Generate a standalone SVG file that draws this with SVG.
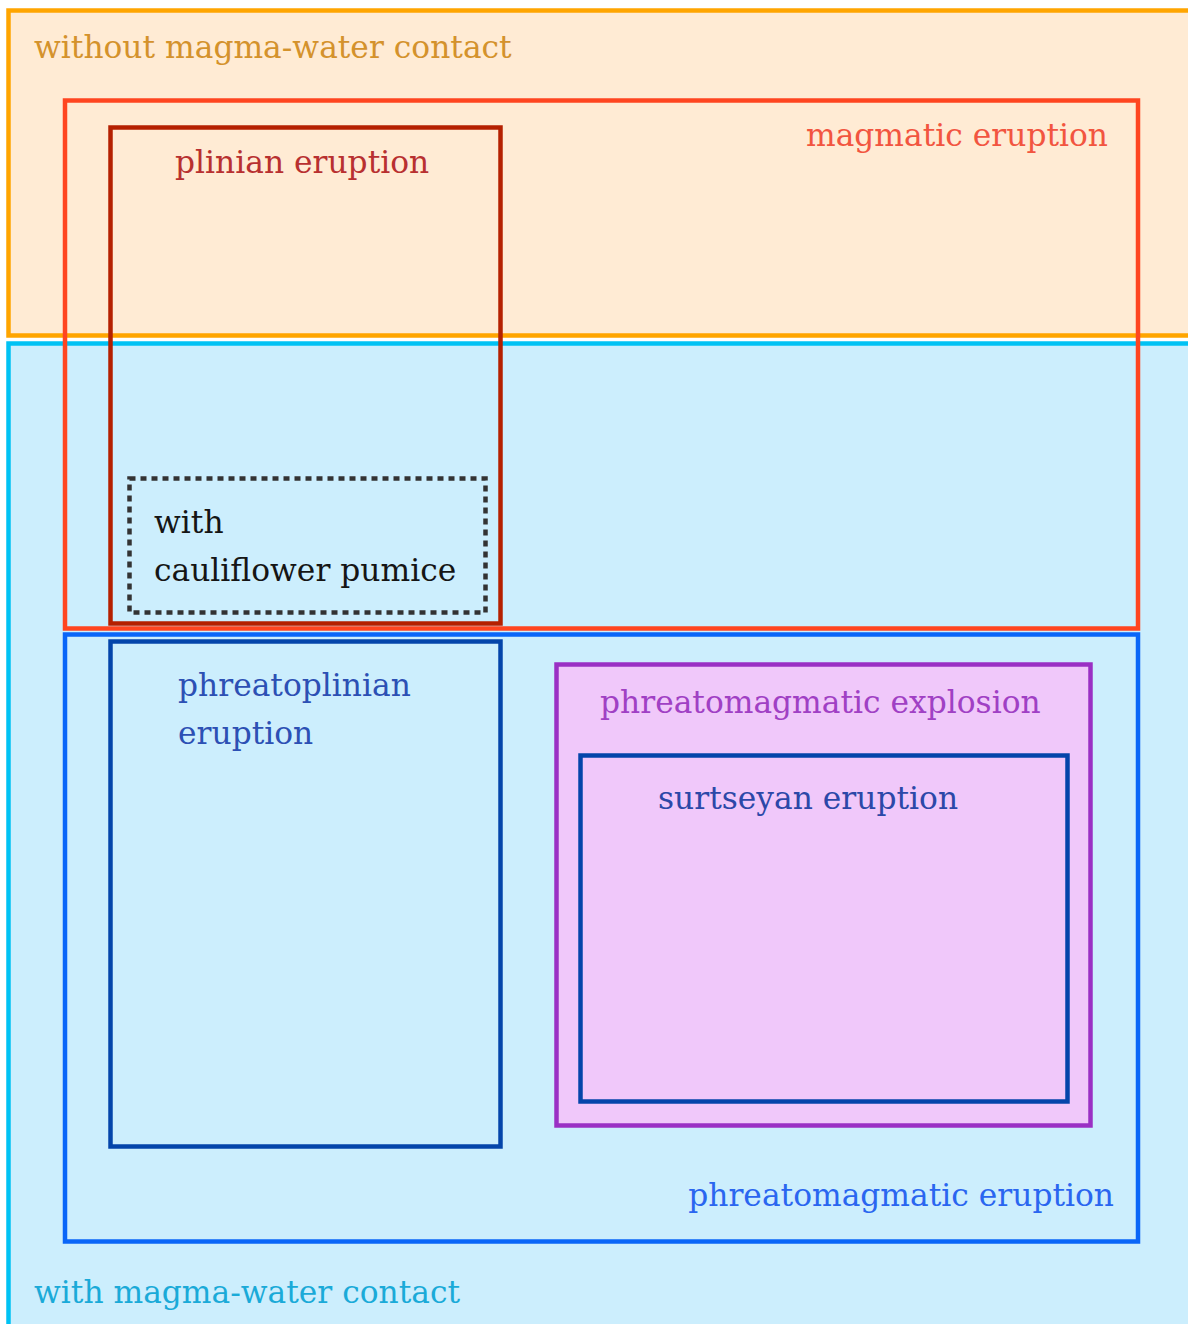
<svg xmlns="http://www.w3.org/2000/svg" width="1188" height="1324" viewBox="0 0 1188 1324">
<style>
text{font-family:"DejaVu Serif","Liberation Serif",serif;font-size:31.3px}
rect{stroke-width:4.5}
</style>
<rect width="1188" height="1324" fill="#ffffff"/>
<g id="without-contact">
<rect x="8.5" y="10.5" width="1190" height="325" fill="#FFEBD4" stroke="#FFA500"/>
<text x="34" y="58" fill="#D4922C">without magma-water contact</text>
</g>
<g id="with-contact">
<rect x="8.5" y="343.5" width="1190" height="1000" fill="#CCEEFD" stroke="#00C2F4"/>
<text x="34" y="1303" fill="#1AAAD8">with magma-water contact</text>
</g>
<g id="magmatic-eruption">
<rect x="65" y="100.5" width="1073" height="528" fill="none" stroke="#FF4520"/>
<text x="1108" y="146" text-anchor="end" fill="#F25540">magmatic eruption</text>
</g>
<g id="plinian-eruption">
<rect x="110.5" y="127.5" width="390" height="496" fill="none" stroke="#B52000"/>
<text x="175" y="173" fill="#B83030">plinian eruption</text>
</g>
<g id="cauliflower-pumice">
<rect x="129.5" y="478.5" width="356" height="134" fill="none" stroke="#333333" stroke-width="3.5" stroke-dasharray="6,5"/>
<text x="154" y="533" fill="#151515">with</text>
<text x="154" y="581" fill="#151515">cauliflower pumice</text>
</g>
<g id="phreatomagmatic-eruption">
<rect x="65" y="634.5" width="1073" height="607" fill="none" stroke="#0A66F8"/>
<text x="1114" y="1206" text-anchor="end" fill="#2A66F0">phreatomagmatic eruption</text>
</g>
<g id="phreatoplinian-eruption">
<rect x="110.5" y="641.5" width="390" height="505" fill="none" stroke="#0445AA"/>
<text x="178" y="696" fill="#2C50B4">phreatoplinian</text>
<text x="178" y="744" fill="#2C50B4">eruption</text>
</g>
<g id="phreatomagmatic-explosion">
<rect x="556.5" y="664.5" width="534" height="461" fill="#F0C8FA" stroke="#9A30C4"/>
<text x="600" y="713" fill="#A040C4">phreatomagmatic explosion</text>
</g>
<g id="surtseyan-eruption">
<rect x="580.5" y="755.5" width="487" height="346" fill="none" stroke="#0445AA"/>
<text x="658" y="809" fill="#2C48A8">surtseyan eruption</text>
</g>
<g id="connectors"></g>
</svg>
